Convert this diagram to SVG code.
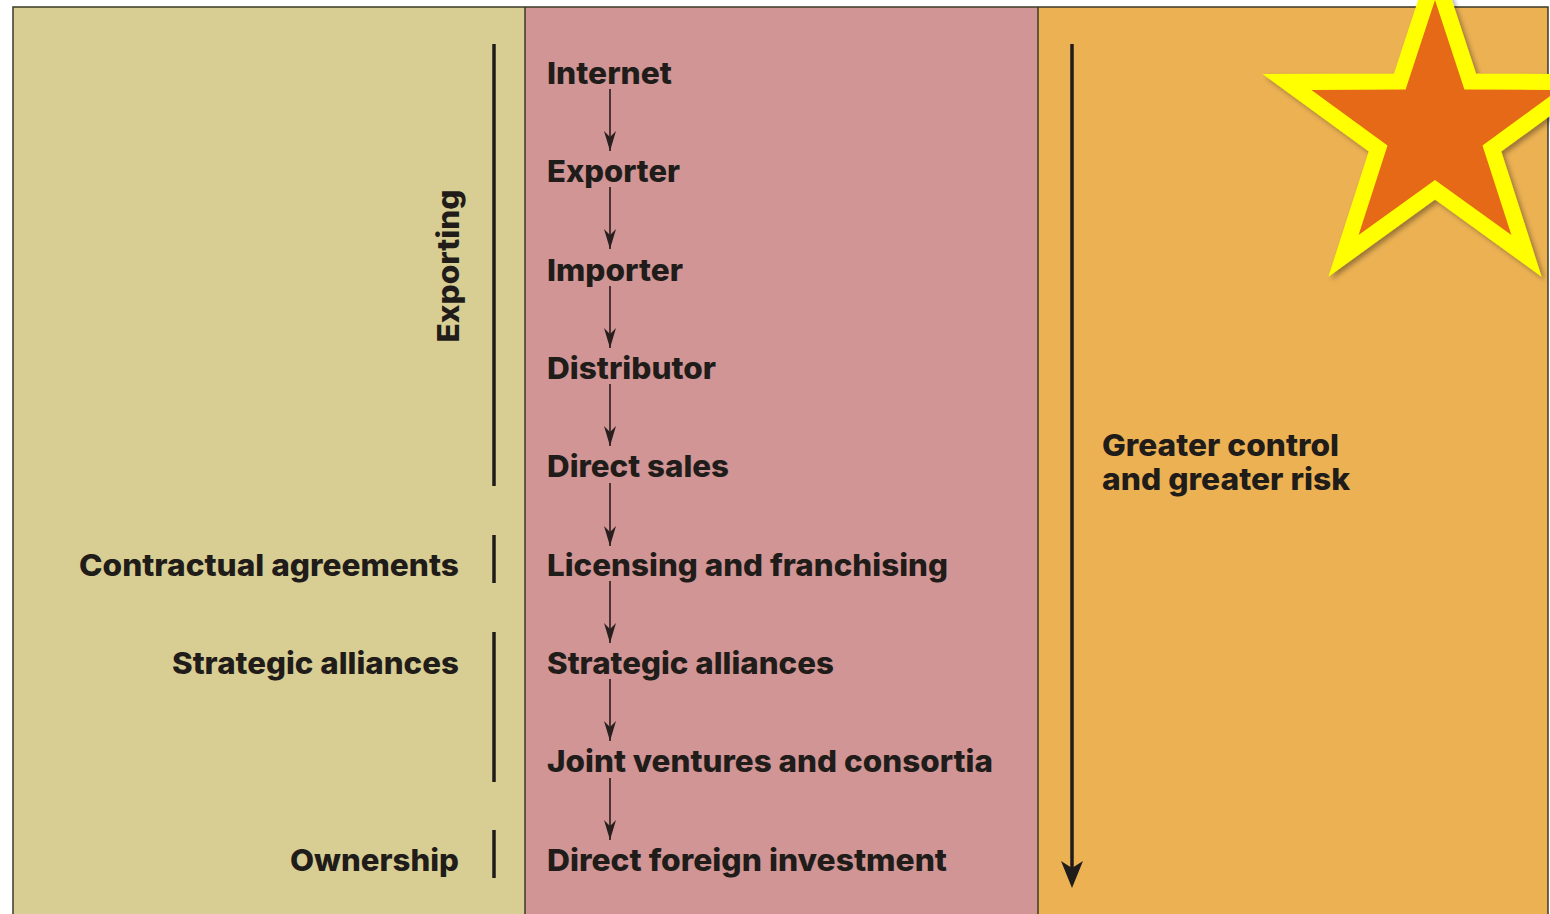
<svg xmlns="http://www.w3.org/2000/svg" width="1550" height="914" viewBox="0 0 1550 914">
  <style>
    .t { font-family: "Inter", "Lato", "Liberation Sans", sans-serif; font-weight: 800; font-size: 30px; fill: #1f1c1a; }
    .bar { stroke: #1f1c1a; stroke-width: 3.5; }
    .step { stroke: #3b2a2a; stroke-width: 1.8; fill: none; marker-end: url(#sm); }
    .edge { stroke: #3a3a28; stroke-width: 1.5; fill: none; }
  </style>
  <defs>
    <marker id="sm" viewBox="0 0 20 12" markerWidth="20" markerHeight="12" refX="20" refY="6" orient="auto" markerUnits="userSpaceOnUse">
      <path d="M20,6 L0,0 L6,6 L0,12 Z" fill="#2a1f1f"/>
    </marker>
    <filter id="sh" x="-20%" y="-20%" width="140%" height="140%">
      <feDropShadow dx="3" dy="3" stdDeviation="2.5" flood-color="#000" flood-opacity="0.35"/>
    </filter>
  </defs>
  <rect width="1550" height="914" fill="#ffffff"/>
  <g id="panels">
    <rect x="13" y="7" width="512" height="907" fill="#D8CE93"/>
    <rect x="525" y="7" width="513" height="907" fill="#D09594"/>
    <rect x="1038" y="7" width="510" height="907" fill="#EBB153"/>
    <path class="edge" d="M13,914 V7 H1548 V914 M525,7 V914 M1038,7 V914"/>
  </g>
  <g id="groups">
    <g id="exporting">
      <line class="bar" x1="494" y1="44" x2="494" y2="486"/>
      <text class="t" transform="translate(459 266) rotate(-90)" text-anchor="middle" textLength="153" lengthAdjust="spacingAndGlyphs">Exporting</text>
    </g>
    <g id="contractual">
      <line class="bar" x1="494" y1="535" x2="494" y2="583"/>
      <text class="t" x="459" y="576" text-anchor="end" textLength="380" lengthAdjust="spacingAndGlyphs">Contractual agreements</text>
    </g>
    <g id="strategic-group">
      <line class="bar" x1="494" y1="632" x2="494" y2="782"/>
      <text class="t" x="459" y="674" text-anchor="end" textLength="287" lengthAdjust="spacingAndGlyphs">Strategic alliances</text>
    </g>
    <g id="ownership">
      <line class="bar" x1="494" y1="830" x2="494" y2="878"/>
      <text class="t" x="459" y="871" text-anchor="end" textLength="169" lengthAdjust="spacingAndGlyphs">Ownership</text>
    </g>
  </g>
  <g id="n-internet"><text class="t" x="547" y="84" textLength="125" lengthAdjust="spacingAndGlyphs">Internet</text></g>
  <g id="n-exporter"><text class="t" x="547" y="182" textLength="133" lengthAdjust="spacingAndGlyphs">Exporter</text></g>
  <g id="n-importer"><text class="t" x="547" y="281" textLength="136" lengthAdjust="spacingAndGlyphs">Importer</text></g>
  <g id="n-distributor"><text class="t" x="547" y="379" textLength="169" lengthAdjust="spacingAndGlyphs">Distributor</text></g>
  <g id="n-direct-sales"><text class="t" x="547" y="477" textLength="182" lengthAdjust="spacingAndGlyphs">Direct sales</text></g>
  <g id="n-licensing"><text class="t" x="547" y="576" textLength="401" lengthAdjust="spacingAndGlyphs">Licensing and franchising</text></g>
  <g id="n-strategic"><text class="t" x="547" y="674" textLength="287" lengthAdjust="spacingAndGlyphs">Strategic alliances</text></g>
  <g id="n-joint"><text class="t" x="547" y="772" textLength="446" lengthAdjust="spacingAndGlyphs">Joint ventures and consortia</text></g>
  <g id="n-fdi"><text class="t" x="547" y="871" textLength="400" lengthAdjust="spacingAndGlyphs">Direct foreign investment</text></g>
  <g id="connectors">
    <line class="step" x1="610" y1="89" x2="610" y2="151"/>
    <line class="step" x1="610" y1="187" x2="610" y2="249"/>
    <line class="step" x1="610" y1="286" x2="610" y2="348"/>
    <line class="step" x1="610" y1="384" x2="610" y2="446"/>
    <line class="step" x1="610" y1="483" x2="610" y2="546"/>
    <line class="step" x1="610" y1="581" x2="610" y2="643"/>
    <line class="step" x1="610" y1="679" x2="610" y2="741"/>
    <line class="step" x1="610" y1="778" x2="610" y2="840"/>
  </g>
  <g id="control-risk">
    <line x1="1072" y1="44" x2="1072" y2="870" stroke="#1f1c1a" stroke-width="3.5"/>
    <path d="M1072,888 L1061,861 L1072,868 L1083,861 Z" fill="#1f1c1a"/>
    <text class="t" x="1102" y="456" textLength="237" lengthAdjust="spacingAndGlyphs">Greater control</text>
    <text class="t" x="1102" y="490" textLength="248" lengthAdjust="spacingAndGlyphs">and greater risk</text>
  </g>
  <g id="star" filter="url(#sh)">
    <polygon points="1435,0 1464.4,89.6 1558.6,89.9 1482.5,145.4 1511.4,235.1 1435,179.9 1358.6,235.1 1387.5,145.4 1311.4,89.9 1405.6,89.6" fill="#E56918" stroke="#FFFF00" stroke-width="32" stroke-linejoin="miter" stroke-miterlimit="10" paint-order="stroke"/>
  </g>
</svg>
